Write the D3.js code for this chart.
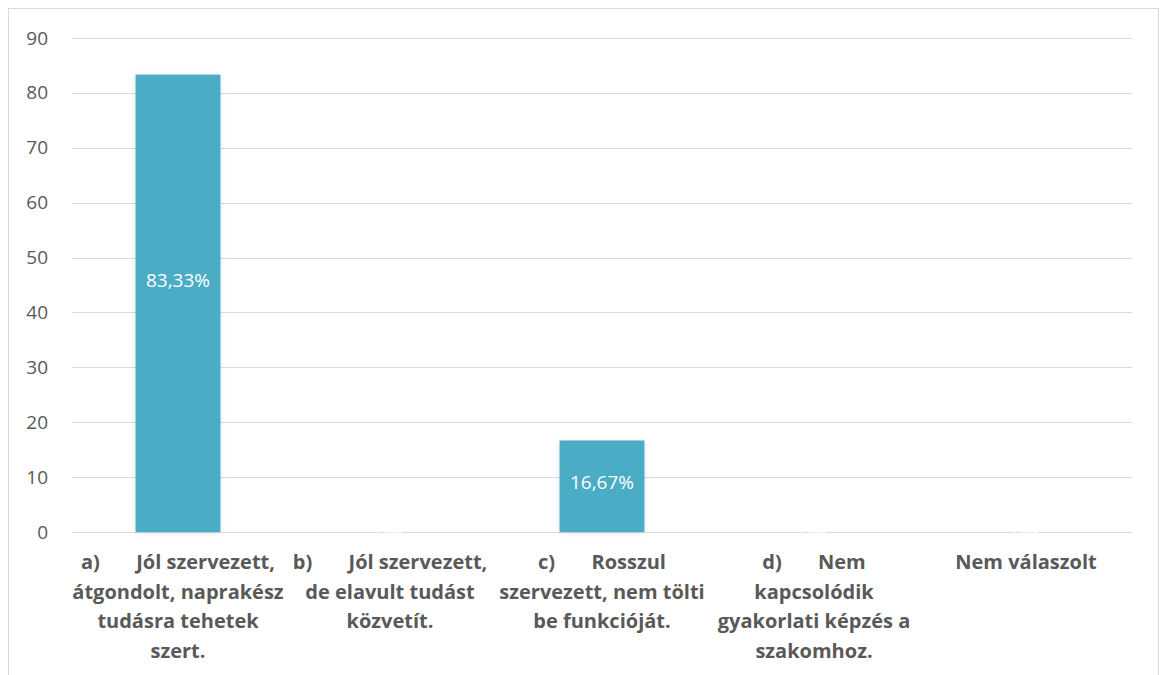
<!DOCTYPE html>
<html>
<head>
<meta charset="utf-8">
<script src="https://cdn.jsdelivr.net/npm/d3@7"></script>
<style>
  body { margin: 0; background: #fff; }
  text { font-family: "Open Sans", sans-serif; }
</style>
</head>
<body>
<div id="chart"></div>
<script>
// category labels, with the line breaks used in the original chart
const categories = [
  'a)\tJól szervezett,\nátgondolt, naprakész\ntudásra tehetek\nszert.',
  'b)\tJól szervezett,\nde elavult tudást\nközvetít.',
  'c)\tRosszul\nszervezett, nem tölti\nbe funkcióját.',
  'd)\tNem\nkapcsolódik\ngyakorlati képzés a\nszakomhoz.',
  'Nem válaszolt'
];
const values = [83.33, 0, 16.67, 0, 0];
const valueLabels = ['83,33%', '0%', '16,67%', '0%', '0%'];
const yTicks = [0, 10, 20, 30, 40, 50, 60, 70, 80, 90];

const width = 1160, height = 675;
const margin = { top: 38, right: 28, bottom: 143, left: 72 };
const innerW = width - margin.left - margin.right;
const innerH = height - margin.top - margin.bottom;

let root = d3.select('#chart')
  .append('svg')
  .attr('width', width)
  .attr('height', height);

let defs = root.append('defs');
defs.append('filter')
  .attr('id', 'glow')
  .attr('x', '-20%').attr('y', '-20%').attr('width', '140%').attr('height', '140%')
  .append('feDropShadow')
  .attr('dx', 0).attr('dy', 1)
  .attr('stdDeviation', 2)
  .attr('flood-color', '#4472c4')
  .attr('flood-opacity', 0.25);

// chart area border
root.append('rect')
  .attr('x', 8.5).attr('y', 8.5)
  .attr('width', 1150).attr('height', 700)
  .attr('fill', '#fff')
  .attr('stroke', '#d9d9d9');

let svg = root.append('g')
  .attr('transform', `translate(${margin.left}, ${margin.top})`);

let x = d3.scaleBand()
  .domain(categories)
  .range([0, innerW])
  .paddingInner(0.6)
  .paddingOuter(0.3);

let y = d3.scaleLinear()
  .domain([0, 90])
  .range([innerH, 0]);

// gridlines
svg.append('g')
  .selectAll('line')
  .data(yTicks)
  .enter()
  .append('line')
  .attr('x1', 0)
  .attr('x2', innerW)
  .attr('y1', d => Math.round(y(d)) + 0.5)
  .attr('y2', d => Math.round(y(d)) + 0.5)
  .attr('stroke', '#d9d9d9')
  .attr('stroke-width', 1);

// y axis labels
let yAxis = svg.append('g')
  .attr('transform', `translate(-24, 0)`)
  .call(d3.axisLeft(y).tickValues(yTicks).tickSize(0).tickPadding(0));
yAxis.select('.domain').remove();
yAxis.selectAll('text')
  .style('font-family', '"Open Sans", sans-serif')
  .style('font-size', '19px')
  .attr('fill', '#595959');

// bars
svg.selectAll('rect.bar')
  .data(values)
  .enter()
  .append('rect')
  .attr('class', 'bar')
  .attr('x', (d, i) => x(categories[i]))
  .attr('y', d => y(d))
  .attr('width', x.bandwidth())
  .attr('height', d => y(0) - y(d))
  .attr('fill', '#4bacc6')
  .attr('filter', 'url(#glow)');

// value labels
svg.selectAll('text.val')
  .data(values)
  .enter()
  .append('text')
  .attr('class', 'val')
  .attr('x', (d, i) => x(categories[i]) + x.bandwidth() / 2)
  .attr('y', d => y(d * 0.55) + 7)
  .attr('text-anchor', 'middle')
  .style('font-size', '19px')
  .attr('fill', '#fff')
  .text((d, i) => valueLabels[i]);

// category labels
let catG = svg.append('g')
  .attr('transform', `translate(0, ${innerH})`);

categories.forEach(c => {
  let lines = c.replace('\t', '\u00a0\u00a0\u00a0\u00a0\u00a0\u00a0\u00a0').split('\n');
  let cx = x(c) + x.bandwidth() / 2;
  let t = catG.append('text')
    .attr('x', cx)
    .attr('y', 37)
    .attr('text-anchor', 'middle')
    .style('font-size', '20px')
    .style('font-weight', 'bold')
    .attr('fill', '#595959');
  lines.forEach((l, j) => {
    t.append('tspan')
      .attr('x', cx)
      .attr('dy', j === 0 ? 0 : 29.5)
      .text(l);
  });
});
</script>
</body>
</html>
